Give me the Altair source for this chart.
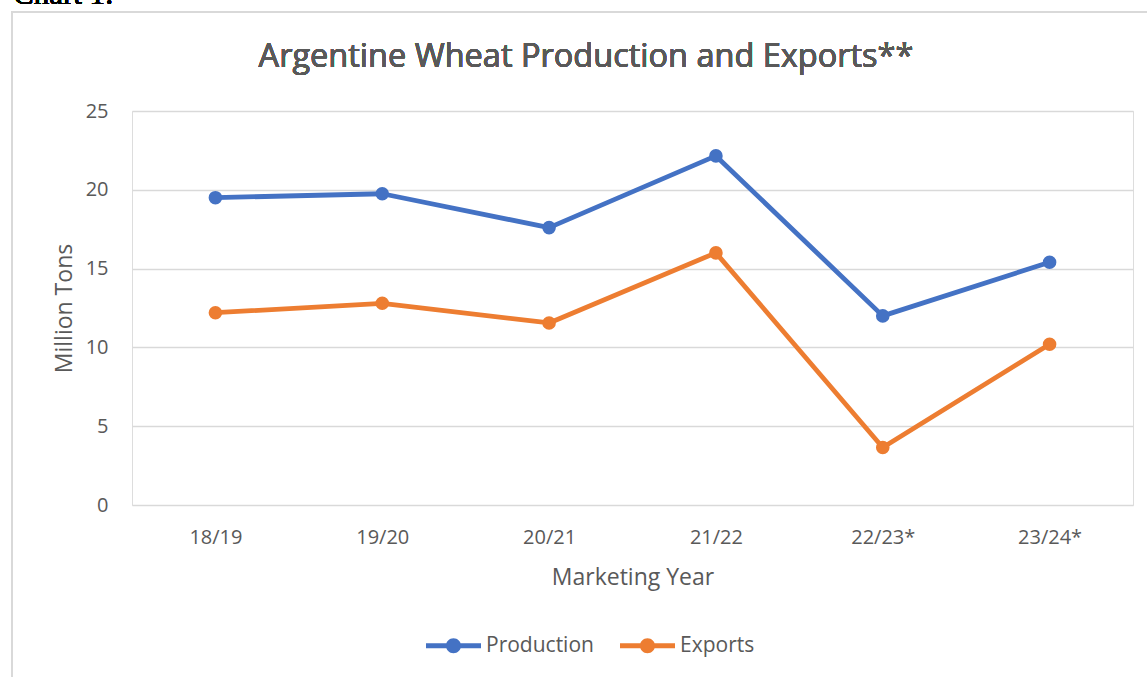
import altair as alt
import pandas as pd

years = ["18/19", "19/20", "20/21", "21/22", "22/23*", "23/24*"]
production = [19.5, 19.75, 17.6, 22.15, 12.0, 15.4]
exports = [12.2, 12.8, 11.55, 16.0, 3.65, 10.2]
series_names = ["Production", "Exports"]
series_colors = ["#4472C4", "#ED7D31"]
y_ticks = [0, 5, 10, 15, 20, 25]

rows = []
for y, p, e in zip(years, production, exports):
    rows.append({"Year": y, "Series": "Production", "Value": p})
    rows.append({"Year": y, "Series": "Exports", "Value": e})
df = pd.DataFrame(rows)

FONT = "Open Sans"
TXT = "#595959"
GRID = "#d9d9d9"

legend_path = ("M-1,-0.09 L1,-0.09 L1,0.09 L-1,0.09 Z "
               "M0.273,0 A0.273,0.273 0 1,1 -0.273,0 A0.273,0.273 0 1,1 0.273,0 Z")

x_enc = alt.X("Year:N", sort=years,
              scale=alt.Scale(type="point", padding=0.5),
              axis=alt.Axis(title="Marketing Year", domain=False, ticks=False,
                            labelAngle=0, labelPadding=22, labelFontSize=20,
                            labelColor=TXT, labelFont=FONT,
                            titleFont=FONT, titleFontSize=23, titleColor=TXT,
                            titleFontWeight="normal", titleBaseline="alphabetic",
                            titleY=79, grid=False))
y_enc = alt.Y("Value:Q", scale=alt.Scale(domain=[0, 25], nice=False),
              axis=alt.Axis(title="Million Tons", values=y_ticks, domain=False,
                            ticks=False, labelPadding=24, labelFontSize=20,
                            labelColor=TXT, labelFont=FONT,
                            grid=True, gridColor=GRID, gridWidth=1.4,
                            titleFont=FONT, titleFontSize=23, titleColor=TXT,
                            titleFontWeight="normal", titleAngle=-90,
                            titleBaseline="alphabetic", titleAlign="center",
                            titleX=-61, titleY=197))

# line layer uses its own (reversed-order) stroke scale so its disabled legend
# is not merged with the point legend
line_scale = alt.Scale(domain=series_names[::-1], range=series_colors[::-1])
color_scale = alt.Scale(domain=series_names, range=series_colors)

lines = alt.Chart(df).mark_line(strokeWidth=4.8, strokeCap="round", strokeJoin="round").encode(
    x=x_enc, y=y_enc,
    stroke=alt.Stroke("Series:N", scale=line_scale, legend=None),
    detail="Series:N",
)

points = alt.Chart(df).mark_point(filled=True, opacity=1, size=185).encode(
    x=x_enc, y=y_enc,
    color=alt.Color("Series:N", scale=color_scale, sort=series_names,
                    legend=alt.Legend(title=None, orient="none", direction="horizontal",
                                      legendX=294, legendY=507,
                                      symbolType=legend_path, symbolSize=3025,
                                      symbolStrokeWidth=0, symbolOpacity=1,
                                      labelFontSize=21,
                                      labelFont=FONT, labelColor=TXT,
                                      labelOffset=5, columnPadding=26, padding=0)),
)

border = alt.Chart(df).mark_rect(fill=None, stroke=GRID, strokeWidth=1.5).encode(
    x=alt.value(-120), x2=alt.value(1040), y=alt.value(-99), y2=alt.value(620)
)

chart_label = alt.Chart(df).mark_text(
    text="Chart 1:", font="Liberation Serif", fontSize=31, color="#000000",
    align="left", baseline="alphabetic"
).encode(x=alt.value(-119), y=alt.value(-107))

title_txt = alt.Chart(df).mark_text(
    text="Argentine Wheat Production and Exports**", font=FONT, fontSize=32.5,
    color=TXT, align="center", baseline="alphabetic"
).encode(x=alt.value(454), y=alt.value(-44))

chart = alt.layer(border, chart_label, title_txt, lines, points).properties(
    width=1001, height=394,
    autosize=alt.AutoSizeParams(type="none"),
    padding={"left": 132, "top": 111, "right": 14, "bottom": 172},
).resolve_scale(color="independent", stroke="independent").configure_view(
    stroke=None
).configure(background="white")

chart.save("out.html", embed_options={"renderer": "svg", "actions": False})
